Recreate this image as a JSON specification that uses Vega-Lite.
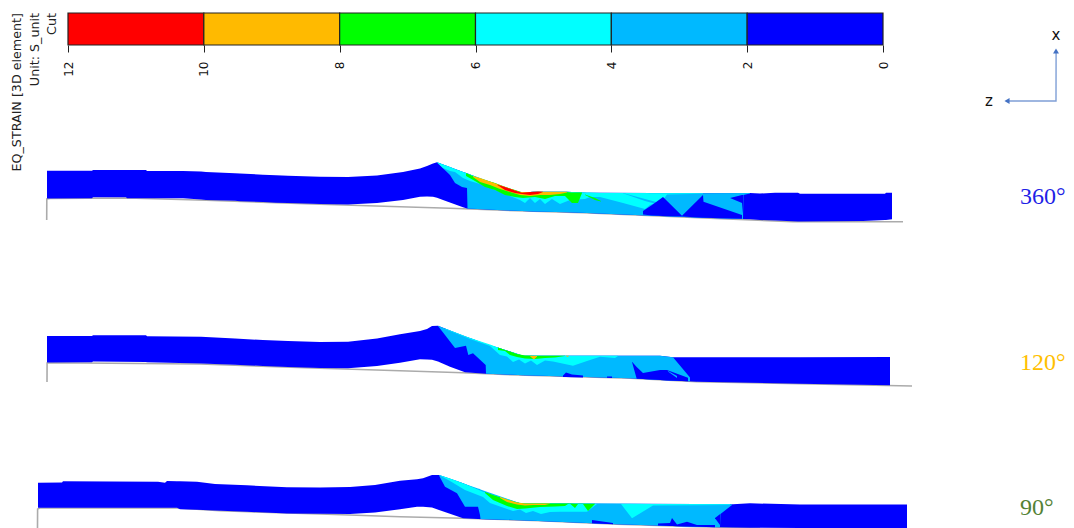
{
  "$schema": "https://vega.github.io/schema/vega-lite/v6.json",
  "width": 1074,
  "height": 528,
  "padding": 0,
  "autosize": {"type": "none"},
  "background": "white",
  "config": {"view": {"stroke": null}},
  "datasets": {
    "bar": [
      {"low": 10, "high": 12, "band": "10-12"},
      {"low": 8, "high": 10, "band": "8-10"},
      {"low": 6, "high": 8, "band": "6-8"},
      {"low": 4, "high": 6, "band": "4-6"},
      {"low": 2, "high": 4, "band": "2-4"},
      {"low": 0, "high": 2, "band": "0-2"}
    ],
    "surface": [
      {"model": "360", "x": 46.7, "y": 220},
      {"model": "360", "x": 46.8, "y": 199},
      {"model": "360", "x": 50, "y": 198.5},
      {"model": "360", "x": 127, "y": 198},
      {"model": "360", "x": 206, "y": 200.3},
      {"model": "360", "x": 320, "y": 204.2},
      {"model": "360", "x": 400, "y": 206.7},
      {"model": "360", "x": 450, "y": 208.3},
      {"model": "360", "x": 497, "y": 210},
      {"model": "360", "x": 583, "y": 212.7},
      {"model": "360", "x": 653, "y": 215.7},
      {"model": "360", "x": 727, "y": 219},
      {"model": "360", "x": 793, "y": 221.7},
      {"model": "360", "x": 903, "y": 221.7},
      {"model": "120", "x": 47, "y": 382},
      {"model": "120", "x": 47.1, "y": 363},
      {"model": "120", "x": 50, "y": 362.7},
      {"model": "120", "x": 200, "y": 364},
      {"model": "120", "x": 320, "y": 368.3},
      {"model": "120", "x": 400, "y": 370.7},
      {"model": "120", "x": 463, "y": 372.7},
      {"model": "120", "x": 517, "y": 375},
      {"model": "120", "x": 630, "y": 378.3},
      {"model": "120", "x": 697, "y": 381.7},
      {"model": "120", "x": 912, "y": 386},
      {"model": "90", "x": 37.5, "y": 528},
      {"model": "90", "x": 37.6, "y": 509},
      {"model": "90", "x": 40, "y": 508},
      {"model": "90", "x": 177, "y": 508},
      {"model": "90", "x": 220, "y": 510.8},
      {"model": "90", "x": 320, "y": 514},
      {"model": "90", "x": 400, "y": 516.7},
      {"model": "90", "x": 463, "y": 518.3},
      {"model": "90", "x": 540, "y": 520.7},
      {"model": "90", "x": 617, "y": 524.3},
      {"model": "90", "x": 697, "y": 526.7},
      {"model": "90", "x": 760, "y": 528}
    ],
    "regions": [
      {"shape": "360 base", "band": "0-2", "x": 47, "top": 170.7, "bottom": 198.5},
      {"shape": "360 base", "band": "0-2", "x": 92, "top": 170.7, "bottom": 198.3},
      {"shape": "360 base", "band": "0-2", "x": 93, "top": 170, "bottom": 197.3},
      {"shape": "360 base", "band": "0-2", "x": 126, "top": 170, "bottom": 197.3},
      {"shape": "360 base", "band": "0-2", "x": 127, "top": 170, "bottom": 198.3},
      {"shape": "360 base", "band": "0-2", "x": 146, "top": 170, "bottom": 198.3},
      {"shape": "360 base", "band": "0-2", "x": 147, "top": 171, "bottom": 198.3},
      {"shape": "360 base", "band": "0-2", "x": 183, "top": 171, "bottom": 198.3},
      {"shape": "360 base", "band": "0-2", "x": 201, "top": 171.5, "bottom": 199.5},
      {"shape": "360 base", "band": "0-2", "x": 206, "top": 172, "bottom": 200},
      {"shape": "360 base", "band": "0-2", "x": 235, "top": 173.3, "bottom": 200.8},
      {"shape": "360 base", "band": "0-2", "x": 240, "top": 173.5, "bottom": 201.3},
      {"shape": "360 base", "band": "0-2", "x": 263, "top": 174.7, "bottom": 202},
      {"shape": "360 base", "band": "0-2", "x": 276, "top": 175.2, "bottom": 202.7},
      {"shape": "360 base", "band": "0-2", "x": 288, "top": 175.7, "bottom": 203},
      {"shape": "360 base", "band": "0-2", "x": 320, "top": 176.8, "bottom": 204},
      {"shape": "360 base", "band": "0-2", "x": 348, "top": 177, "bottom": 204.5},
      {"shape": "360 base", "band": "0-2", "x": 377, "top": 175.5, "bottom": 203},
      {"shape": "360 base", "band": "0-2", "x": 403, "top": 172, "bottom": 200},
      {"shape": "360 base", "band": "0-2", "x": 420, "top": 168.5, "bottom": 196.7},
      {"shape": "360 base", "band": "0-2", "x": 427, "top": 166, "bottom": 196.5},
      {"shape": "360 base", "band": "0-2", "x": 433, "top": 163.5, "bottom": 196.7},
      {"shape": "360 base", "band": "0-2", "x": 437, "top": 162.3, "bottom": 197.8},
      {"shape": "360 base", "band": "0-2", "x": 443, "top": 164.5, "bottom": 200},
      {"shape": "360 base", "band": "0-2", "x": 463, "top": 172, "bottom": 207.3},
      {"shape": "360 base", "band": "0-2", "x": 467, "top": 173.3, "bottom": 208.4},
      {"shape": "360 base", "band": "0-2", "x": 497, "top": 185, "bottom": 210},
      {"shape": "360 base", "band": "0-2", "x": 522, "top": 192.7, "bottom": 211},
      {"shape": "360 base", "band": "0-2", "x": 533, "top": 191.7, "bottom": 211.5},
      {"shape": "360 base", "band": "0-2", "x": 567, "top": 191.7, "bottom": 212.2},
      {"shape": "360 base", "band": "0-2", "x": 587, "top": 192.7, "bottom": 212.9},
      {"shape": "360 base", "band": "0-2", "x": 653, "top": 193, "bottom": 215.7},
      {"shape": "360 base", "band": "0-2", "x": 703, "top": 193.3, "bottom": 217.7},
      {"shape": "360 base", "band": "0-2", "x": 727, "top": 193.2, "bottom": 218.5},
      {"shape": "360 base", "band": "0-2", "x": 750, "top": 193, "bottom": 219.2},
      {"shape": "360 base", "band": "0-2", "x": 760, "top": 193.5, "bottom": 220},
      {"shape": "360 base", "band": "0-2", "x": 775, "top": 192.7, "bottom": 220.5},
      {"shape": "360 base", "band": "0-2", "x": 798, "top": 192.7, "bottom": 221.5},
      {"shape": "360 base", "band": "0-2", "x": 800, "top": 193.7, "bottom": 221.6},
      {"shape": "360 base", "band": "0-2", "x": 863, "top": 193.7, "bottom": 221},
      {"shape": "360 base", "band": "0-2", "x": 885, "top": 193.7, "bottom": 220},
      {"shape": "360 base", "band": "0-2", "x": 886, "top": 192.7, "bottom": 220},
      {"shape": "360 base", "band": "0-2", "x": 892, "top": 192.7, "bottom": 219.3},

      {"shape": "360 light", "band": "2-4", "x": 437, "top": 162.3, "bottom": 162.6},
      {"shape": "360 light", "band": "2-4", "x": 450, "top": 167, "bottom": 175},
      {"shape": "360 light", "band": "2-4", "x": 455, "top": 169, "bottom": 183},
      {"shape": "360 light", "band": "2-4", "x": 462, "top": 171.5, "bottom": 187},
      {"shape": "360 light", "band": "2-4", "x": 467, "top": 173.3, "bottom": 188},
      {"shape": "360 light", "band": "2-4", "x": 467.5, "top": 173.5, "bottom": 208.4},
      {"shape": "360 light", "band": "2-4", "x": 497, "top": 185, "bottom": 210},
      {"shape": "360 light", "band": "2-4", "x": 522, "top": 192.7, "bottom": 211},
      {"shape": "360 light", "band": "2-4", "x": 533, "top": 191.7, "bottom": 211.5},
      {"shape": "360 light", "band": "2-4", "x": 567, "top": 191.7, "bottom": 212.2},
      {"shape": "360 light", "band": "2-4", "x": 587, "top": 192.7, "bottom": 212.9},
      {"shape": "360 light", "band": "2-4", "x": 653, "top": 193, "bottom": 215.7},
      {"shape": "360 light", "band": "2-4", "x": 703, "top": 193.3, "bottom": 217.7},
      {"shape": "360 light", "band": "2-4", "x": 743, "top": 193, "bottom": 218.9},
      {"shape": "360 light", "band": "2-4", "x": 743.5, "top": 193, "bottom": 195},
      {"shape": "360 light", "band": "2-4", "x": 750, "top": 193, "bottom": 193.4},

      {"shape": "360 cyan", "band": "4-6", "x": 437, "top": 162.3, "bottom": 162.6},
      {"shape": "360 cyan", "band": "4-6", "x": 443, "top": 164.5, "bottom": 168},
      {"shape": "360 cyan", "band": "4-6", "x": 450, "top": 167, "bottom": 171},
      {"shape": "360 cyan", "band": "4-6", "x": 455, "top": 169, "bottom": 172},
      {"shape": "360 cyan", "band": "4-6", "x": 463, "top": 172, "bottom": 178},
      {"shape": "360 cyan", "band": "4-6", "x": 470, "top": 174.5, "bottom": 181},
      {"shape": "360 cyan", "band": "4-6", "x": 480, "top": 178, "bottom": 184},
      {"shape": "360 cyan", "band": "4-6", "x": 490, "top": 181.5, "bottom": 188},
      {"shape": "360 cyan", "band": "4-6", "x": 500, "top": 185, "bottom": 192},
      {"shape": "360 cyan", "band": "4-6", "x": 510, "top": 188.5, "bottom": 196},
      {"shape": "360 cyan", "band": "4-6", "x": 520, "top": 192, "bottom": 200},
      {"shape": "360 cyan", "band": "4-6", "x": 525, "top": 192.2, "bottom": 203},
      {"shape": "360 cyan", "band": "4-6", "x": 530, "top": 192, "bottom": 198},
      {"shape": "360 cyan", "band": "4-6", "x": 535, "top": 191.7, "bottom": 203},
      {"shape": "360 cyan", "band": "4-6", "x": 540, "top": 191.7, "bottom": 199},
      {"shape": "360 cyan", "band": "4-6", "x": 545, "top": 191.7, "bottom": 204},
      {"shape": "360 cyan", "band": "4-6", "x": 552, "top": 191.7, "bottom": 199},
      {"shape": "360 cyan", "band": "4-6", "x": 560, "top": 191.7, "bottom": 204},
      {"shape": "360 cyan", "band": "4-6", "x": 570, "top": 192, "bottom": 200},
      {"shape": "360 cyan", "band": "4-6", "x": 585, "top": 192.5, "bottom": 199},
      {"shape": "360 cyan", "band": "4-6", "x": 590, "top": 192.5, "bottom": 197},
      {"shape": "360 cyan", "band": "4-6", "x": 600, "top": 193, "bottom": 197},
      {"shape": "360 cyan", "band": "4-6", "x": 623, "top": 193.1, "bottom": 203},
      {"shape": "360 cyan", "band": "4-6", "x": 645, "top": 193.1, "bottom": 209},
      {"shape": "360 cyan", "band": "4-6", "x": 650, "top": 193.2, "bottom": 205},
      {"shape": "360 cyan", "band": "4-6", "x": 663, "top": 193.2, "bottom": 200},
      {"shape": "360 cyan", "band": "4-6", "x": 667, "top": 193.2, "bottom": 194.5},
      {"shape": "360 cyan", "band": "4-6", "x": 690, "top": 193.3, "bottom": 194},
      {"shape": "360 cyan", "band": "4-6", "x": 703, "top": 193.3, "bottom": 193.8},

      {"shape": "360 streak", "band": "2-4", "x": 623, "top": 193.1, "bottom": 193.3},
      {"shape": "360 streak", "band": "2-4", "x": 645, "top": 199, "bottom": 201},
      {"shape": "360 streak", "band": "2-4", "x": 660, "top": 203, "bottom": 205},

      {"shape": "360 patch a", "band": "0-2", "x": 643, "top": 211, "bottom": 214.5},
      {"shape": "360 patch a", "band": "0-2", "x": 652, "top": 205, "bottom": 215.6},
      {"shape": "360 patch a", "band": "0-2", "x": 663, "top": 197, "bottom": 216},
      {"shape": "360 patch a", "band": "0-2", "x": 682, "top": 215.7, "bottom": 216.4},
      {"shape": "360 patch b", "band": "0-2", "x": 682, "top": 215.7, "bottom": 216.4},
      {"shape": "360 patch b", "band": "0-2", "x": 703, "top": 195, "bottom": 217.7},
      {"shape": "360 patch b", "band": "0-2", "x": 703.5, "top": 201.7, "bottom": 217.7},
      {"shape": "360 patch b", "band": "0-2", "x": 742, "top": 215, "bottom": 218.8},
      {"shape": "360 wedge", "band": "0-2", "x": 730, "top": 198, "bottom": 198.1},
      {"shape": "360 wedge", "band": "0-2", "x": 742, "top": 194.9, "bottom": 203},
      {"shape": "360 wedge", "band": "0-2", "x": 743.2, "top": 195, "bottom": 216},

      {"shape": "360 green", "band": "6-8", "x": 466, "top": 173, "bottom": 176},
      {"shape": "360 green", "band": "6-8", "x": 475, "top": 177, "bottom": 181},
      {"shape": "360 green", "band": "6-8", "x": 485, "top": 180, "bottom": 187},
      {"shape": "360 green", "band": "6-8", "x": 495, "top": 183, "bottom": 190},
      {"shape": "360 green", "band": "6-8", "x": 505, "top": 187, "bottom": 195},
      {"shape": "360 green", "band": "6-8", "x": 515, "top": 190, "bottom": 197},
      {"shape": "360 green", "band": "6-8", "x": 523, "top": 192.5, "bottom": 198},
      {"shape": "360 green", "band": "6-8", "x": 535, "top": 192, "bottom": 197},
      {"shape": "360 green", "band": "6-8", "x": 545, "top": 192, "bottom": 199},
      {"shape": "360 green", "band": "6-8", "x": 555, "top": 192, "bottom": 196},
      {"shape": "360 green", "band": "6-8", "x": 565, "top": 192, "bottom": 196},
      {"shape": "360 green", "band": "6-8", "x": 572, "top": 192.5, "bottom": 203},
      {"shape": "360 green", "band": "6-8", "x": 578, "top": 192.5, "bottom": 203},
      {"shape": "360 green", "band": "6-8", "x": 582, "top": 192.6, "bottom": 193},
      {"shape": "360 green b", "band": "6-8", "x": 585, "top": 194.5, "bottom": 195},
      {"shape": "360 green b", "band": "6-8", "x": 595, "top": 198, "bottom": 200},
      {"shape": "360 green b", "band": "6-8", "x": 601, "top": 201, "bottom": 201.5},

      {"shape": "360 orange", "band": "8-10", "x": 473, "top": 176, "bottom": 177},
      {"shape": "360 orange", "band": "8-10", "x": 480, "top": 178, "bottom": 182},
      {"shape": "360 orange", "band": "8-10", "x": 490, "top": 181.5, "bottom": 185},
      {"shape": "360 orange", "band": "8-10", "x": 500, "top": 185, "bottom": 189},
      {"shape": "360 orange", "band": "8-10", "x": 510, "top": 188.5, "bottom": 192},
      {"shape": "360 orange", "band": "8-10", "x": 520, "top": 192, "bottom": 195},
      {"shape": "360 orange", "band": "8-10", "x": 530, "top": 192, "bottom": 196},
      {"shape": "360 orange", "band": "8-10", "x": 540, "top": 191.7, "bottom": 195},
      {"shape": "360 orange", "band": "8-10", "x": 550, "top": 191.7, "bottom": 195},
      {"shape": "360 orange", "band": "8-10", "x": 560, "top": 191.7, "bottom": 194},
      {"shape": "360 orange", "band": "8-10", "x": 567, "top": 191.7, "bottom": 192.5},

      {"shape": "360 red", "band": "10-12", "x": 497, "top": 184.5, "bottom": 184.7},
      {"shape": "360 red", "band": "10-12", "x": 505, "top": 187, "bottom": 190},
      {"shape": "360 red", "band": "10-12", "x": 515, "top": 190.5, "bottom": 193},
      {"shape": "360 red", "band": "10-12", "x": 522, "top": 192.7, "bottom": 194},
      {"shape": "360 red", "band": "10-12", "x": 530, "top": 192, "bottom": 195},
      {"shape": "360 red", "band": "10-12", "x": 538, "top": 191.5, "bottom": 194},
      {"shape": "360 red", "band": "10-12", "x": 543, "top": 191.7, "bottom": 192},

      {"shape": "120 base", "band": "0-2", "x": 47, "top": 336, "bottom": 362.5},
      {"shape": "120 base", "band": "0-2", "x": 92, "top": 336, "bottom": 362.3},
      {"shape": "120 base", "band": "0-2", "x": 93, "top": 335.3, "bottom": 361.5},
      {"shape": "120 base", "band": "0-2", "x": 146, "top": 335.3, "bottom": 362},
      {"shape": "120 base", "band": "0-2", "x": 147, "top": 336.2, "bottom": 362.3},
      {"shape": "120 base", "band": "0-2", "x": 201, "top": 336.8, "bottom": 363.5},
      {"shape": "120 base", "band": "0-2", "x": 235, "top": 338.5, "bottom": 364.8},
      {"shape": "120 base", "band": "0-2", "x": 263, "top": 340, "bottom": 366},
      {"shape": "120 base", "band": "0-2", "x": 288, "top": 341, "bottom": 367},
      {"shape": "120 base", "band": "0-2", "x": 320, "top": 342, "bottom": 368},
      {"shape": "120 base", "band": "0-2", "x": 348, "top": 341.8, "bottom": 368.3},
      {"shape": "120 base", "band": "0-2", "x": 377, "top": 338.5, "bottom": 366},
      {"shape": "120 base", "band": "0-2", "x": 400, "top": 334.3, "bottom": 362.7},
      {"shape": "120 base", "band": "0-2", "x": 420, "top": 331, "bottom": 359.3},
      {"shape": "120 base", "band": "0-2", "x": 427, "top": 329, "bottom": 359.5},
      {"shape": "120 base", "band": "0-2", "x": 432, "top": 326, "bottom": 359.8},
      {"shape": "120 base", "band": "0-2", "x": 438, "top": 325.7, "bottom": 361.5},
      {"shape": "120 base", "band": "0-2", "x": 450, "top": 330.5, "bottom": 366.7},
      {"shape": "120 base", "band": "0-2", "x": 465, "top": 336.3, "bottom": 372.3},
      {"shape": "120 base", "band": "0-2", "x": 486, "top": 344, "bottom": 373.7},
      {"shape": "120 base", "band": "0-2", "x": 500, "top": 348.3, "bottom": 374.3},
      {"shape": "120 base", "band": "0-2", "x": 523, "top": 355.7, "bottom": 375.2},
      {"shape": "120 base", "band": "0-2", "x": 630, "top": 355.7, "bottom": 378.3},
      {"shape": "120 base", "band": "0-2", "x": 660, "top": 355.7, "bottom": 380},
      {"shape": "120 base", "band": "0-2", "x": 673, "top": 357.3, "bottom": 380.6},
      {"shape": "120 base", "band": "0-2", "x": 697, "top": 357.3, "bottom": 381.7},
      {"shape": "120 base", "band": "0-2", "x": 800, "top": 357.3, "bottom": 383.7},
      {"shape": "120 base", "band": "0-2", "x": 890, "top": 357, "bottom": 385.3},

      {"shape": "120 light", "band": "2-4", "x": 438, "top": 325.7, "bottom": 326},
      {"shape": "120 light", "band": "2-4", "x": 445, "top": 328.5, "bottom": 335},
      {"shape": "120 light", "band": "2-4", "x": 455, "top": 332.5, "bottom": 348},
      {"shape": "120 light", "band": "2-4", "x": 466, "top": 337, "bottom": 345.7},
      {"shape": "120 light", "band": "2-4", "x": 468.3, "top": 337.5, "bottom": 355},
      {"shape": "120 light", "band": "2-4", "x": 473, "top": 339, "bottom": 353.3},
      {"shape": "120 light", "band": "2-4", "x": 485.7, "top": 344, "bottom": 365},
      {"shape": "120 light", "band": "2-4", "x": 486, "top": 344, "bottom": 373.7},
      {"shape": "120 light", "band": "2-4", "x": 500, "top": 348.3, "bottom": 374.3},
      {"shape": "120 light", "band": "2-4", "x": 523, "top": 355.7, "bottom": 375.2},
      {"shape": "120 light", "band": "2-4", "x": 630, "top": 355.7, "bottom": 378.3},
      {"shape": "120 light", "band": "2-4", "x": 660, "top": 355.7, "bottom": 380},
      {"shape": "120 light", "band": "2-4", "x": 673, "top": 357.3, "bottom": 380.6},
      {"shape": "120 light", "band": "2-4", "x": 690, "top": 377.5, "bottom": 381.3},

      {"shape": "120 cyan", "band": "4-6", "x": 445, "top": 328.5, "bottom": 329},
      {"shape": "120 cyan", "band": "4-6", "x": 470, "top": 338, "bottom": 339},
      {"shape": "120 cyan", "band": "4-6", "x": 490, "top": 344.6, "bottom": 346},
      {"shape": "120 cyan", "band": "4-6", "x": 500, "top": 348.3, "bottom": 355},
      {"shape": "120 cyan", "band": "4-6", "x": 507, "top": 350.8, "bottom": 356.5},
      {"shape": "120 cyan", "band": "4-6", "x": 513, "top": 352.5, "bottom": 362},
      {"shape": "120 cyan", "band": "4-6", "x": 519, "top": 354.5, "bottom": 359.5},
      {"shape": "120 cyan", "band": "4-6", "x": 525, "top": 355.7, "bottom": 363.5},
      {"shape": "120 cyan", "band": "4-6", "x": 531, "top": 355.7, "bottom": 360.5},
      {"shape": "120 cyan", "band": "4-6", "x": 537, "top": 355.7, "bottom": 365},
      {"shape": "120 cyan", "band": "4-6", "x": 545, "top": 355.7, "bottom": 360.5},
      {"shape": "120 cyan", "band": "4-6", "x": 553, "top": 355.7, "bottom": 361.5},
      {"shape": "120 cyan", "band": "4-6", "x": 573, "top": 355.7, "bottom": 365.7},
      {"shape": "120 cyan", "band": "4-6", "x": 587, "top": 355.7, "bottom": 361},
      {"shape": "120 cyan", "band": "4-6", "x": 600, "top": 355.7, "bottom": 356.7},
      {"shape": "120 cyan", "band": "4-6", "x": 615, "top": 355.7, "bottom": 358},
      {"shape": "120 cyan", "band": "4-6", "x": 618, "top": 355.7, "bottom": 355.9},

      {"shape": "120 patch a", "band": "0-2", "x": 563, "top": 375.5, "bottom": 376.9},
      {"shape": "120 patch a", "band": "0-2", "x": 566, "top": 372.5, "bottom": 377},
      {"shape": "120 patch a", "band": "0-2", "x": 572, "top": 374.5, "bottom": 377.2},
      {"shape": "120 patch a", "band": "0-2", "x": 583, "top": 375.5, "bottom": 377.5},
      {"shape": "120 patch b", "band": "0-2", "x": 607, "top": 376.5, "bottom": 377.8},
      {"shape": "120 patch b", "band": "0-2", "x": 612, "top": 376.5, "bottom": 377.9},
      {"shape": "120 patch c", "band": "0-2", "x": 632, "top": 361.7, "bottom": 362},
      {"shape": "120 patch c", "band": "0-2", "x": 636.7, "top": 367, "bottom": 378.7},
      {"shape": "120 patch c", "band": "0-2", "x": 643, "top": 373, "bottom": 379},
      {"shape": "120 patch c", "band": "0-2", "x": 660, "top": 370, "bottom": 380},
      {"shape": "120 patch c", "band": "0-2", "x": 667, "top": 370, "bottom": 380.4},
      {"shape": "120 patch c", "band": "0-2", "x": 688, "top": 377.7, "bottom": 381.2},
      {"shape": "120 streak", "band": "2-4", "x": 668, "top": 371, "bottom": 371.5},
      {"shape": "120 streak", "band": "2-4", "x": 677, "top": 376, "bottom": 378},

      {"shape": "120 green", "band": "6-8", "x": 498, "top": 347.5, "bottom": 350},
      {"shape": "120 green", "band": "6-8", "x": 505, "top": 350, "bottom": 351},
      {"shape": "120 green", "band": "6-8", "x": 510, "top": 351.5, "bottom": 355},
      {"shape": "120 green", "band": "6-8", "x": 517, "top": 354, "bottom": 357},
      {"shape": "120 green", "band": "6-8", "x": 525, "top": 355.5, "bottom": 358.5},
      {"shape": "120 green", "band": "6-8", "x": 535, "top": 355.7, "bottom": 359},
      {"shape": "120 green", "band": "6-8", "x": 545, "top": 355.7, "bottom": 358},
      {"shape": "120 green", "band": "6-8", "x": 555, "top": 355.7, "bottom": 357.5},
      {"shape": "120 green", "band": "6-8", "x": 565, "top": 355.7, "bottom": 356},

      {"shape": "120 orange", "band": "8-10", "x": 530, "top": 356, "bottom": 356.2},
      {"shape": "120 orange", "band": "8-10", "x": 534, "top": 356, "bottom": 359.5},
      {"shape": "120 orange", "band": "8-10", "x": 537, "top": 356, "bottom": 356.5},
      {"shape": "120 orange b", "band": "8-10", "x": 566, "top": 355.8, "bottom": 356},
      {"shape": "120 orange b", "band": "8-10", "x": 567.5, "top": 355.8, "bottom": 357},
      {"shape": "120 orange b", "band": "8-10", "x": 569, "top": 355.8, "bottom": 356},

      {"shape": "90 base", "band": "0-2", "x": 38, "top": 482.7, "bottom": 507.7},
      {"shape": "90 base", "band": "0-2", "x": 62, "top": 482.5, "bottom": 507.7},
      {"shape": "90 base", "band": "0-2", "x": 63, "top": 481.3, "bottom": 507.7},
      {"shape": "90 base", "band": "0-2", "x": 158, "top": 481.7, "bottom": 507.7},
      {"shape": "90 base", "band": "0-2", "x": 165, "top": 482.7, "bottom": 507.7},
      {"shape": "90 base", "band": "0-2", "x": 167, "top": 481, "bottom": 507.7},
      {"shape": "90 base", "band": "0-2", "x": 177, "top": 481.2, "bottom": 507.7},
      {"shape": "90 base", "band": "0-2", "x": 180, "top": 481.3, "bottom": 509.3},
      {"shape": "90 base", "band": "0-2", "x": 197, "top": 481.7, "bottom": 509.8},
      {"shape": "90 base", "band": "0-2", "x": 215, "top": 484, "bottom": 510.5},
      {"shape": "90 base", "band": "0-2", "x": 247, "top": 485.3, "bottom": 511.8},
      {"shape": "90 base", "band": "0-2", "x": 287, "top": 487.3, "bottom": 513.4},
      {"shape": "90 base", "band": "0-2", "x": 320, "top": 487.5, "bottom": 513.7},
      {"shape": "90 base", "band": "0-2", "x": 350, "top": 487, "bottom": 514},
      {"shape": "90 base", "band": "0-2", "x": 375, "top": 485, "bottom": 512.5},
      {"shape": "90 base", "band": "0-2", "x": 400, "top": 480.7, "bottom": 509.3},
      {"shape": "90 base", "band": "0-2", "x": 417, "top": 479.3, "bottom": 506.7},
      {"shape": "90 base", "band": "0-2", "x": 423, "top": 478.3, "bottom": 506.7},
      {"shape": "90 base", "band": "0-2", "x": 432, "top": 475, "bottom": 507.5},
      {"shape": "90 base", "band": "0-2", "x": 439, "top": 475, "bottom": 510},
      {"shape": "90 base", "band": "0-2", "x": 463, "top": 483.2, "bottom": 518.3},
      {"shape": "90 base", "band": "0-2", "x": 483, "top": 491.7, "bottom": 519.2},
      {"shape": "90 base", "band": "0-2", "x": 520, "top": 503.3, "bottom": 520.2},
      {"shape": "90 base", "band": "0-2", "x": 617, "top": 503.7, "bottom": 524.3},
      {"shape": "90 base", "band": "0-2", "x": 697, "top": 504.1, "bottom": 526.7},
      {"shape": "90 base", "band": "0-2", "x": 733, "top": 504.3, "bottom": 527.5},
      {"shape": "90 base", "band": "0-2", "x": 750, "top": 503.3, "bottom": 527.8},
      {"shape": "90 base", "band": "0-2", "x": 800, "top": 504.5, "bottom": 528},
      {"shape": "90 base", "band": "0-2", "x": 907, "top": 504.5, "bottom": 528},

      {"shape": "90 light", "band": "2-4", "x": 439, "top": 475, "bottom": 475.5},
      {"shape": "90 light", "band": "2-4", "x": 445, "top": 477, "bottom": 486.7},
      {"shape": "90 light", "band": "2-4", "x": 457, "top": 481, "bottom": 493.3},
      {"shape": "90 light", "band": "2-4", "x": 465, "top": 484, "bottom": 506.7},
      {"shape": "90 light", "band": "2-4", "x": 478, "top": 488.5, "bottom": 506.7},
      {"shape": "90 light", "band": "2-4", "x": 480, "top": 489, "bottom": 515},
      {"shape": "90 light", "band": "2-4", "x": 480.5, "top": 489.5, "bottom": 519},
      {"shape": "90 light", "band": "2-4", "x": 520, "top": 503.3, "bottom": 520.2},
      {"shape": "90 light", "band": "2-4", "x": 617, "top": 503.7, "bottom": 524.3},
      {"shape": "90 light", "band": "2-4", "x": 697, "top": 504.1, "bottom": 526.7},
      {"shape": "90 light", "band": "2-4", "x": 720, "top": 504.2, "bottom": 527.2},
      {"shape": "90 light", "band": "2-4", "x": 720.5, "top": 504.2, "bottom": 514},
      {"shape": "90 light", "band": "2-4", "x": 732, "top": 504.3, "bottom": 505},

      {"shape": "90 cyan", "band": "4-6", "x": 440, "top": 475.3, "bottom": 475.6},
      {"shape": "90 cyan", "band": "4-6", "x": 450, "top": 478.5, "bottom": 481},
      {"shape": "90 cyan", "band": "4-6", "x": 465, "top": 484, "bottom": 490},
      {"shape": "90 cyan", "band": "4-6", "x": 483, "top": 491.7, "bottom": 497},
      {"shape": "90 cyan", "band": "4-6", "x": 490, "top": 494, "bottom": 503},
      {"shape": "90 cyan", "band": "4-6", "x": 513, "top": 501, "bottom": 511},
      {"shape": "90 cyan", "band": "4-6", "x": 520, "top": 503.3, "bottom": 509.5},
      {"shape": "90 cyan", "band": "4-6", "x": 526, "top": 503.3, "bottom": 513},
      {"shape": "90 cyan", "band": "4-6", "x": 533, "top": 503.3, "bottom": 511},
      {"shape": "90 cyan", "band": "4-6", "x": 541, "top": 503.3, "bottom": 514},
      {"shape": "90 cyan", "band": "4-6", "x": 550, "top": 503.3, "bottom": 512},
      {"shape": "90 cyan", "band": "4-6", "x": 560, "top": 503.5, "bottom": 511.7},
      {"shape": "90 cyan", "band": "4-6", "x": 573, "top": 503.5, "bottom": 511.7},
      {"shape": "90 cyan", "band": "4-6", "x": 587, "top": 503.5, "bottom": 511.7},
      {"shape": "90 cyan", "band": "4-6", "x": 597, "top": 503.7, "bottom": 504},
      {"shape": "90 cyan", "band": "4-6", "x": 621, "top": 503.7, "bottom": 504},
      {"shape": "90 cyan", "band": "4-6", "x": 632, "top": 503.8, "bottom": 518.3},
      {"shape": "90 cyan", "band": "4-6", "x": 653, "top": 504, "bottom": 505.5},
      {"shape": "90 cyan", "band": "4-6", "x": 730, "top": 504.2, "bottom": 505},

      {"shape": "90 patch a", "band": "0-2", "x": 592, "top": 520, "bottom": 523.2},
      {"shape": "90 patch a", "band": "0-2", "x": 613, "top": 523, "bottom": 524.2},
      {"shape": "90 patch b", "band": "0-2", "x": 658, "top": 523.5, "bottom": 525.6},
      {"shape": "90 patch b", "band": "0-2", "x": 670, "top": 523, "bottom": 526},
      {"shape": "90 patch b", "band": "0-2", "x": 672, "top": 518, "bottom": 526},
      {"shape": "90 patch b", "band": "0-2", "x": 677, "top": 524.5, "bottom": 526.2},
      {"shape": "90 patch b", "band": "0-2", "x": 687, "top": 521.7, "bottom": 526.5},
      {"shape": "90 patch b", "band": "0-2", "x": 697, "top": 525, "bottom": 526.8},
      {"shape": "90 patch b", "band": "0-2", "x": 715, "top": 525, "bottom": 527.2},
      {"shape": "90 wedge", "band": "0-2", "x": 715, "top": 518, "bottom": 518.2},
      {"shape": "90 wedge", "band": "0-2", "x": 720.2, "top": 514, "bottom": 525.3},

      {"shape": "90 green", "band": "6-8", "x": 485, "top": 492, "bottom": 493},
      {"shape": "90 green", "band": "6-8", "x": 493, "top": 495, "bottom": 500},
      {"shape": "90 green", "band": "6-8", "x": 507, "top": 499.5, "bottom": 506},
      {"shape": "90 green", "band": "6-8", "x": 517, "top": 502.5, "bottom": 509},
      {"shape": "90 green", "band": "6-8", "x": 525, "top": 503.5, "bottom": 508.5},
      {"shape": "90 green", "band": "6-8", "x": 540, "top": 503.5, "bottom": 507},
      {"shape": "90 green", "band": "6-8", "x": 555, "top": 503.5, "bottom": 506.5},
      {"shape": "90 green", "band": "6-8", "x": 565, "top": 503.5, "bottom": 506},
      {"shape": "90 green", "band": "6-8", "x": 568, "top": 503.5, "bottom": 504},
      {"shape": "90 green", "band": "6-8", "x": 570, "top": 503.5, "bottom": 503.7},
      {"shape": "90 green", "band": "6-8", "x": 575, "top": 503.7, "bottom": 508},
      {"shape": "90 green", "band": "6-8", "x": 578, "top": 503.7, "bottom": 503.9},
      {"shape": "90 green", "band": "6-8", "x": 583, "top": 503.7, "bottom": 503.9},
      {"shape": "90 green", "band": "6-8", "x": 588, "top": 503.7, "bottom": 511},
      {"shape": "90 green", "band": "6-8", "x": 595, "top": 503.7, "bottom": 503.9},

      {"shape": "90 orange", "band": "8-10", "x": 500, "top": 497, "bottom": 498},
      {"shape": "90 orange", "band": "8-10", "x": 507, "top": 499.5, "bottom": 502},
      {"shape": "90 orange", "band": "8-10", "x": 517, "top": 502.5, "bottom": 504.5},
      {"shape": "90 orange", "band": "8-10", "x": 525, "top": 503.5, "bottom": 505.5},
      {"shape": "90 orange", "band": "8-10", "x": 533, "top": 503.5, "bottom": 505},
      {"shape": "90 orange", "band": "8-10", "x": 545, "top": 503.5, "bottom": 505},
      {"shape": "90 orange", "band": "8-10", "x": 550, "top": 503.5, "bottom": 503.7}
    ]
  },
  "encoding": {
    "y": {"type": "quantitative", "scale": {"domain": [528, 0], "nice": false, "zero": false}, "axis": null}
  },
  "resolve": {"scale": {"x": "independent"}},
  "layer": [
    {
      "data": {"name": "bar"},
      "mark": {"type": "rect", "stroke": "#222222", "strokeWidth": 1.2},
      "encoding": {
        "x": {
          "field": "high",
          "type": "quantitative",
          "scale": {"domain": [12, 0], "range": [68, 883], "nice": false, "zero": false},
          "axis": {
            "orient": "bottom",
            "offset": -483,
            "title": null,
            "values": [12, 10, 8, 6, 4, 2, 0],
            "domain": false,
            "grid": false,
            "tickSize": 7,
            "tickColor": "#222222",
            "labelAngle": 270,
            "labelAlign": "right",
            "labelBaseline": "middle",
            "labelPadding": 9,
            "labelFont": "DejaVu Sans",
            "labelFontSize": 12,
            "labelColor": "#111111"
          }
        },
        "x2": {"field": "low"},
        "y": {"datum": 13, "type": "quantitative"},
        "y2": {"datum": 45},
        "color": {
          "field": "band",
          "type": "nominal",
          "legend": null,
          "scale": {
            "domain": ["10-12", "8-10", "6-8", "4-6", "2-4", "0-2"],
            "range": ["#ff0000", "#ffba00", "#00ff00", "#00ffff", "#00b9ff", "#0000ff"]
          }
        }
      }
    },
    {
      "encoding": {
        "x": {"type": "quantitative", "scale": {"domain": [0, 1074], "nice": false, "zero": false}, "axis": null}
      },
      "layer": [
        {
          "data": {"name": "surface"},
          "mark": {"type": "line", "color": "#ababab", "strokeWidth": 1.6, "interpolate": "linear"},
          "encoding": {
            "x": {"field": "x", "type": "quantitative"},
            "y": {"field": "y", "type": "quantitative"},
            "detail": {"field": "model"}
          }
        },
        {
          "data": {"name": "regions"},
          "mark": {"type": "area", "interpolate": "linear", "opacity": 1},
          "encoding": {
            "x": {"field": "x", "type": "quantitative"},
            "y": {"field": "top", "type": "quantitative", "stack": null},
            "y2": {"field": "bottom"},
            "color": {"field": "band", "type": "nominal", "legend": null},
            "detail": {"field": "shape"}
          }
        },
        {
          "data": {"values": [
            {"text": "EQ_STRAIN [3D element]", "x": 17, "y": 13},
            {"text": "Unit: S_unit", "x": 35, "y": 13},
            {"text": "Cut", "x": 52, "y": 13}
          ]},
          "mark": {"type": "text", "angle": 270, "align": "right", "baseline": "middle", "font": "DejaVu Sans", "fontSize": 12.7, "color": "#222222"},
          "encoding": {
            "x": {"field": "x", "type": "quantitative"},
            "y": {"field": "y", "type": "quantitative"},
            "text": {"field": "text"}
          }
        },
        {
          "data": {"values": [{"text": "360°", "x": 1020, "y": 197}]},
          "mark": {"type": "text", "align": "left", "baseline": "middle", "font": "Liberation Serif", "fontSize": 24, "color": "#1f1fe6"},
          "encoding": {"x": {"field": "x", "type": "quantitative"}, "y": {"field": "y", "type": "quantitative"}, "text": {"field": "text"}}
        },
        {
          "data": {"values": [{"text": "120°", "x": 1020, "y": 363}]},
          "mark": {"type": "text", "align": "left", "baseline": "middle", "font": "Liberation Serif", "fontSize": 24, "color": "#ffc000"},
          "encoding": {"x": {"field": "x", "type": "quantitative"}, "y": {"field": "y", "type": "quantitative"}, "text": {"field": "text"}}
        },
        {
          "data": {"values": [{"text": "90°", "x": 1020, "y": 508}]},
          "mark": {"type": "text", "align": "left", "baseline": "middle", "font": "Liberation Serif", "fontSize": 24, "color": "#548235"},
          "encoding": {"x": {"field": "x", "type": "quantitative"}, "y": {"field": "y", "type": "quantitative"}, "text": {"field": "text"}}
        },
        {
          "data": {"values": [
            {"x": 1009, "y": 101},
            {"x": 1056, "y": 101},
            {"x": 1056.1, "y": 53}
          ]},
          "mark": {"type": "line", "color": "#7f9fd6", "strokeWidth": 1.4, "order": false},
          "encoding": {"x": {"field": "x", "type": "quantitative"}, "y": {"field": "y", "type": "quantitative"}}
        },
        {
          "data": {"values": [{"x": 1056, "y": 51}]},
          "mark": {"type": "point", "shape": "triangle-up", "filled": true, "size": 35, "color": "#4472c4", "opacity": 1},
          "encoding": {"x": {"field": "x", "type": "quantitative"}, "y": {"field": "y", "type": "quantitative"}}
        },
        {
          "data": {"values": [{"x": 1007, "y": 101}]},
          "mark": {"type": "point", "shape": "triangle-left", "filled": true, "size": 35, "color": "#4472c4", "opacity": 1},
          "encoding": {"x": {"field": "x", "type": "quantitative"}, "y": {"field": "y", "type": "quantitative"}}
        },
        {
          "data": {"values": [
            {"text": "x", "x": 1056, "y": 35},
            {"text": "z", "x": 989, "y": 101}
          ]},
          "mark": {"type": "text", "align": "center", "baseline": "middle", "font": "DejaVu Sans", "fontSize": 15, "color": "#111111"},
          "encoding": {"x": {"field": "x", "type": "quantitative"}, "y": {"field": "y", "type": "quantitative"}, "text": {"field": "text"}}
        }
      ]
    }
  ]
}
